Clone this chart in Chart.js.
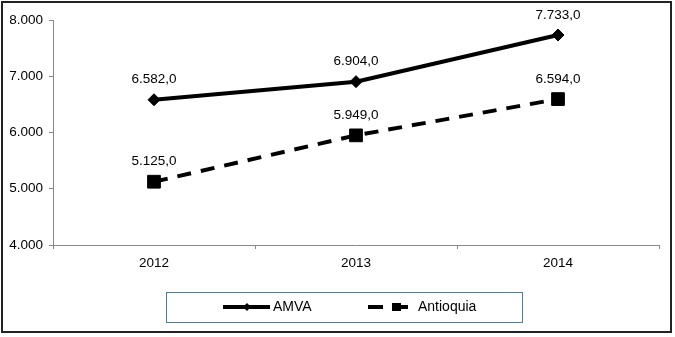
<!DOCTYPE html>
<html>
<head>
<meta charset="utf-8">
<style>
  body { margin: 0; background: #fff; }
  #wrap { width: 675px; height: 337px; }
</style>
<script src="https://cdn.jsdelivr.net/npm/chart.js@4"></script>
</head>
<body>
<div id="wrap"><canvas id="myChart" width="675" height="337"></canvas></div>
<script>
// values
var years = ['2012', '2013', '2014'];
var amva = [6582, 6904, 7733];
var antioquia = [5125, 5949, 6594];
var yMin = 4000, yMax = 8000, yStep = 1000;

var FONT = '"Liberation Sans", Arial, sans-serif';

function thousands(v) {
    return String(Math.floor(v)).replace(/\B(?=(\d{3})+(?!\d))/g, '.');
}
function label(v) {
    return thousands(v) + ',0';
}

// data labels, outer frame and the boxed legend
var extras = {
    id: 'extras',
    afterDatasetsDraw: function (chart) {
        var ctx = chart.ctx;
        ctx.save();
        ctx.font = '13.5px ' + FONT;
        ctx.fillStyle = '#000';
        ctx.textAlign = 'center';
        ctx.textBaseline = 'middle';
        chart.data.datasets.forEach(function (ds, i) {
            chart.getDatasetMeta(i).data.forEach(function (pt, j) {
                ctx.fillText(label(ds.data[j]), pt.x, pt.y - 20);
            });
        });
        ctx.restore();
    },
    afterDraw: function (chart) {
        var ctx = chart.ctx;
        ctx.save();
        // outer frame
        ctx.strokeStyle = '#222';
        ctx.lineWidth = 2;
        ctx.strokeRect(2, 2, 669, 330);

        // legend box
        ctx.strokeStyle = '#4a7ebb';
        ctx.lineWidth = 1;
        ctx.strokeRect(166.5, 292.5, 356, 30);

        var ly = 307;
        ctx.strokeStyle = '#000';
        ctx.fillStyle = '#000';
        ctx.lineWidth = 4;

        // AMVA sample
        ctx.beginPath();
        ctx.moveTo(223, ly);
        ctx.lineTo(270, ly);
        ctx.stroke();
        ctx.beginPath();
        ctx.moveTo(243, ly); ctx.lineTo(247, ly - 4); ctx.lineTo(251, ly); ctx.lineTo(247, ly + 4);
        ctx.closePath();
        ctx.fill();

        // Antioquia sample
        ctx.beginPath();
        ctx.moveTo(368, ly); ctx.lineTo(383, ly);
        ctx.moveTo(396, ly); ctx.lineTo(408, ly);
        ctx.stroke();
        ctx.fillRect(392, ly - 4, 9, 8);

        ctx.font = '14px ' + FONT;
        ctx.textAlign = 'left';
        ctx.textBaseline = 'middle';
        ctx.fillText('AMVA', 273, ly);
        ctx.fillText('Antioquia', 418, ly);
        ctx.restore();
    }
};

var ctx = document.getElementById('myChart').getContext('2d');
var myChart = new Chart(ctx, {
    type: 'line',
    data: {
        labels: years,
        datasets: [{
            label: 'AMVA',
            data: amva,
            borderColor: '#000',
            backgroundColor: '#000',
            borderWidth: 4,
            pointStyle: 'rectRot',
            pointRadius: 6,
            pointBorderWidth: 1,
            tension: 0,
            fill: false
        },
        {
            label: 'Antioquia',
            data: antioquia,
            borderColor: '#000',
            backgroundColor: '#000',
            borderWidth: 4,
            borderDash: [14, 10],
            pointStyle: 'rect',
            pointRadius: 9,
            pointBorderWidth: 1,
            tension: 0,
            fill: false
        }]
    },
    options: {
        responsive: false,
        animation: false,
        layout: { padding: { top: 20, right: 16, left: 0, bottom: 0 } },
        plugins: {
            legend: { display: false },
            tooltip: { enabled: false }
        },
        scales: {
            x: {
                offset: true,
                grid: { offset: true, drawOnChartArea: false, color: '#888', tickLength: 4 },
                border: { color: '#888', width: 1 },
                ticks: { color: '#000', font: { family: FONT, size: 13.5 }, padding: 6 },
                afterFit: function (s) { s.height = 92; }
            },
            y: {
                min: yMin,
                max: yMax,
                ticks: {
                    stepSize: yStep,
                    color: '#000',
                    font: { family: FONT, size: 13.5 },
                    padding: 6,
                    callback: function (v) { return thousands(v); }
                },
                grid: { drawOnChartArea: false, color: '#888', tickLength: 4 },
                border: { color: '#888', width: 1 },
                afterFit: function (s) { s.width = 53; }
            }
        }
    },
    plugins: [extras]
});
</script>
</body>
</html>
